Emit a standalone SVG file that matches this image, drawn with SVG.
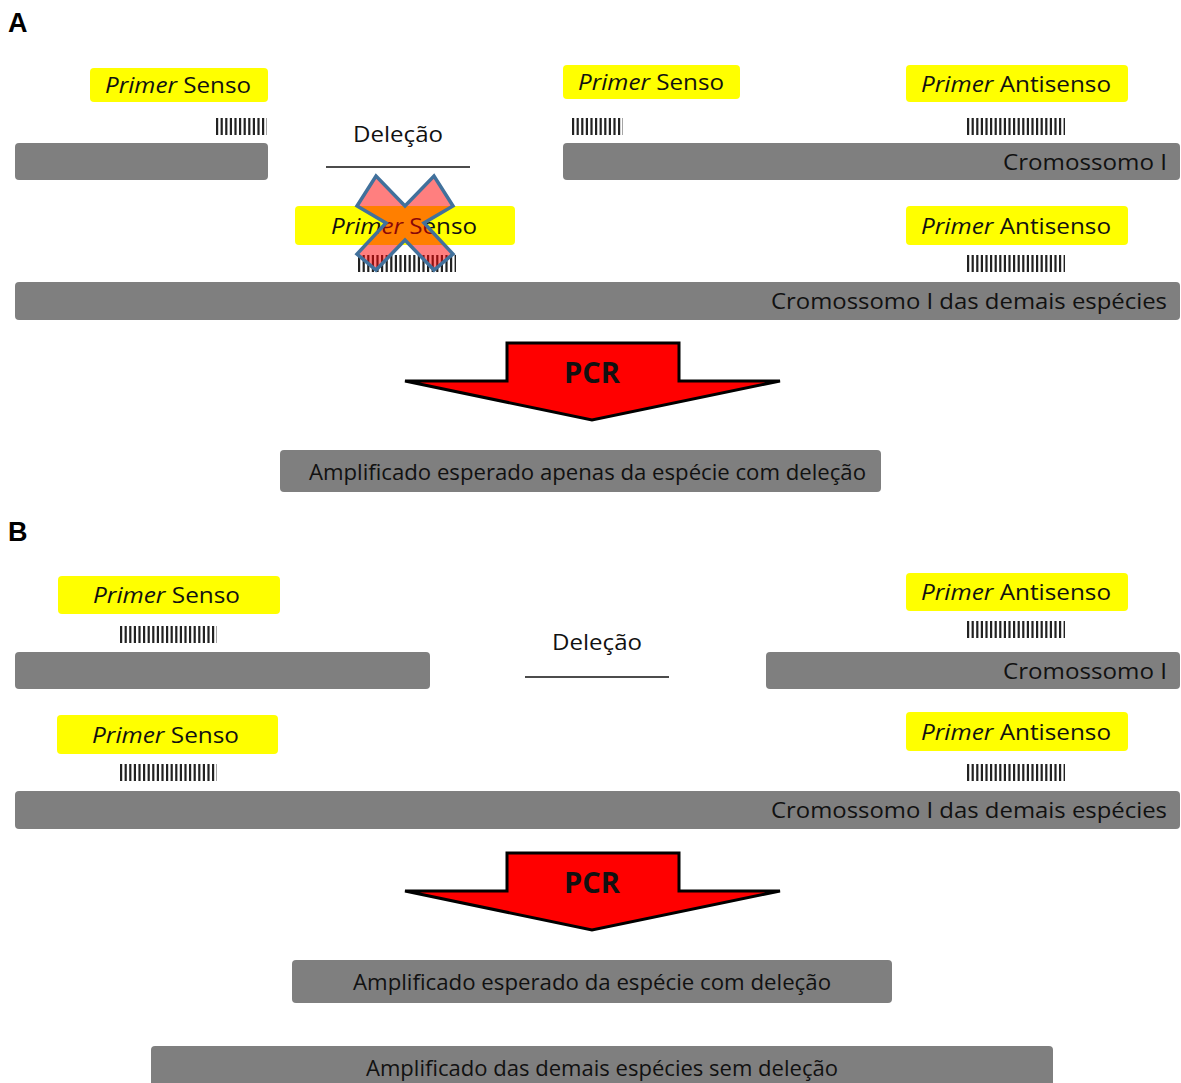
<svg xmlns="http://www.w3.org/2000/svg" width="1181" height="1083" viewBox="0 0 1181 1083">
  <style>
    .lbl { font-family: "Liberation Sans", Arial, sans-serif; font-weight: bold; font-size: 27px; fill: #000; }
    .primer { fill: #FFFF00; }
    .chrom { fill: #7F7F7F; }
    .txt { font-family: "Open Sans", "Noto Sans", sans-serif; font-size: 21px; fill: #111; }
    .it { font-style: italic; }
    .bars { stroke: #222; stroke-width: 17; stroke-dasharray: 2.2 2.4; fill: none; }
    .del { stroke: #111; stroke-width: 1.5; }
    .pcr { fill: #FF0000; stroke: #000; stroke-width: 3; stroke-linejoin: miter; }
    .pcrtxt { font-family: "Open Sans", "Noto Sans", sans-serif; font-weight: bold; font-size: 28px; fill: #111; }
    .cross { fill: #FF0000; fill-opacity: 0.5; stroke: #41719C; stroke-width: 3.5; stroke-linejoin: miter; }
  </style>

  <!-- Panel A -->
  <text class="lbl" x="8" y="32">A</text>

  <g id="a-chrom-left">
    <rect class="chrom" x="15" y="143" width="253" height="37" rx="4"/>
  </g>
  <g id="a-primer-senso-1">
    <rect class="primer" x="90" y="68" width="178" height="34" rx="4"/>
    <text class="txt" x="105" y="93" textLength="146" lengthAdjust="spacingAndGlyphs"><tspan class="it">Primer</tspan> Senso</text>
    <line class="bars" x1="216" y1="126.5" x2="267" y2="126.5"/>
  </g>
  <g id="a-delecao">
    <text class="txt" x="398" y="142" text-anchor="middle" textLength="90" lengthAdjust="spacingAndGlyphs">Deleção</text>
    <line class="del" x1="326" y1="167" x2="470" y2="167"/>
  </g>
  <g id="a-primer-senso-2">
    <rect class="primer" x="563" y="65" width="177" height="34" rx="4"/>
    <text class="txt" x="578" y="90" textLength="146" lengthAdjust="spacingAndGlyphs"><tspan class="it">Primer</tspan> Senso</text>
    <line class="bars" x1="572" y1="126.5" x2="623" y2="126.5"/>
  </g>
  <g id="a-primer-antisenso-1">
    <rect class="primer" x="906" y="65" width="222" height="37" rx="4"/>
    <text class="txt" x="921" y="92" textLength="190" lengthAdjust="spacingAndGlyphs"><tspan class="it">Primer</tspan> Antisenso</text>
    <line class="bars" x1="967" y1="126.5" x2="1065" y2="126.5"/>
  </g>
  <g id="a-chrom-right">
    <rect class="chrom" x="563" y="143" width="617" height="37" rx="4"/>
    <text class="txt" x="1167" y="170" text-anchor="end" textLength="164" lengthAdjust="spacingAndGlyphs">Cromossomo I</text>
  </g>

  <g id="a-primer-senso-blocked">
    <rect class="primer" x="295" y="206" width="220" height="39" rx="4"/>
    <text class="txt" x="331" y="234" textLength="146" lengthAdjust="spacingAndGlyphs"><tspan class="it">Primer</tspan> Senso</text>
    <line class="bars" x1="358" y1="263.5" x2="456" y2="263.5"/>
    <!-- cross: primer cannot bind across the deletion -->
    <polygon class="cross" points="357,206 376,176 405,206 434,176 453,206 424,223 453,254 434,270 405,240 376,270 357,254 386,223"/>
  </g>
  <g id="a-primer-antisenso-2">
    <rect class="primer" x="906" y="206" width="222" height="39" rx="4"/>
    <text class="txt" x="921" y="234" textLength="190" lengthAdjust="spacingAndGlyphs"><tspan class="it">Primer</tspan> Antisenso</text>
    <line class="bars" x1="967" y1="263.5" x2="1065" y2="263.5"/>
  </g>
  <g id="a-chrom-others">
    <rect class="chrom" x="15" y="282" width="1165" height="38" rx="4"/>
    <text class="txt" x="1167" y="309" text-anchor="end" textLength="396" lengthAdjust="spacingAndGlyphs">Cromossomo I das demais espécies</text>
  </g>

  <g id="connectors">
    <g id="a-pcr">
      <polygon class="pcr" points="507,343 679,343 679,381 780,381 592,420 405,381 507,381"/>
      <text class="pcrtxt" x="592" y="383" text-anchor="middle" textLength="56" lengthAdjust="spacingAndGlyphs">PCR</text>
    </g>
    <g id="b-pcr">
      <polygon class="pcr" points="507,853 679,853 679,891 780,891 592,930 405,891 507,891"/>
      <text class="pcrtxt" x="592" y="893" text-anchor="middle" textLength="56" lengthAdjust="spacingAndGlyphs">PCR</text>
    </g>
  </g>

  <g id="a-result">
    <rect class="chrom" x="280" y="450" width="601" height="42" rx="4"/>
    <text class="txt" x="309" y="480" textLength="557" lengthAdjust="spacingAndGlyphs">Amplificado esperado  apenas da espécie com deleção</text>
  </g>

  <!-- Panel B -->
  <text class="lbl" x="8" y="541">B</text>

  <g id="b-primer-senso-1">
    <rect class="primer" x="58" y="576" width="222" height="38" rx="4"/>
    <text class="txt" x="93" y="603" textLength="147" lengthAdjust="spacingAndGlyphs"><tspan class="it">Primer</tspan> Senso</text>
    <line class="bars" x1="120" y1="634.5" x2="217" y2="634.5"/>
  </g>
  <g id="b-chrom-left">
    <rect class="chrom" x="15" y="652" width="415" height="37" rx="4"/>
  </g>
  <g id="b-delecao">
    <text class="txt" x="597" y="650" text-anchor="middle" textLength="90" lengthAdjust="spacingAndGlyphs">Deleção</text>
    <line class="del" x1="525" y1="677" x2="669" y2="677"/>
  </g>
  <g id="b-primer-antisenso-1">
    <rect class="primer" x="906" y="573" width="222" height="38" rx="4"/>
    <text class="txt" x="921" y="600" textLength="190" lengthAdjust="spacingAndGlyphs"><tspan class="it">Primer</tspan> Antisenso</text>
    <line class="bars" x1="967" y1="629.5" x2="1065" y2="629.5"/>
  </g>
  <g id="b-chrom-right">
    <rect class="chrom" x="766" y="652" width="414" height="37" rx="4"/>
    <text class="txt" x="1167" y="679" text-anchor="end" textLength="164" lengthAdjust="spacingAndGlyphs">Cromossomo I</text>
  </g>

  <g id="b-primer-senso-2">
    <rect class="primer" x="57" y="715" width="221" height="39" rx="4"/>
    <text class="txt" x="92" y="743" textLength="147" lengthAdjust="spacingAndGlyphs"><tspan class="it">Primer</tspan> Senso</text>
    <line class="bars" x1="120" y1="772.5" x2="217" y2="772.5"/>
  </g>
  <g id="b-primer-antisenso-2">
    <rect class="primer" x="906" y="712" width="222" height="39" rx="4"/>
    <text class="txt" x="921" y="740" textLength="190" lengthAdjust="spacingAndGlyphs"><tspan class="it">Primer</tspan> Antisenso</text>
    <line class="bars" x1="967" y1="772.5" x2="1065" y2="772.5"/>
  </g>
  <g id="b-chrom-others">
    <rect class="chrom" x="15" y="791" width="1165" height="38" rx="4"/>
    <text class="txt" x="1167" y="818" text-anchor="end" textLength="396" lengthAdjust="spacingAndGlyphs">Cromossomo I das demais espécies</text>
  </g>

  <g id="b-result-del">
    <rect class="chrom" x="292" y="960" width="600" height="43" rx="4"/>
    <text class="txt" x="353" y="990" textLength="478" lengthAdjust="spacingAndGlyphs">Amplificado esperado  da espécie com deleção</text>
  </g>
  <g id="b-result-others">
    <rect class="chrom" x="151" y="1046" width="902" height="45" rx="4"/>
    <text class="txt" x="366" y="1076" textLength="472" lengthAdjust="spacingAndGlyphs">Amplificado das demais espécies sem deleção</text>
  </g>
</svg>
